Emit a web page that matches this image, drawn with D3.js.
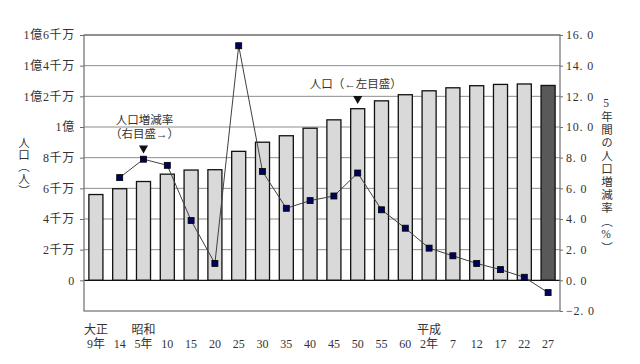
<!DOCTYPE html>
<html>
<head>
<meta charset="utf-8">
<script src="https://cdn.jsdelivr.net/npm/d3@7"></script>
<style>
  body { margin: 0; background: #fff; }
  svg text { font-family: "Liberation Serif", "Noto Sans CJK JP", serif !important; fill: #333; }
</style>
</head>
<body>
<svg width="640" height="364"></svg>
<script>
// census years (era labels on two rows)
var years = ["1920","1925","1930","1935","1940","1945","1950","1955","1960","1965",
             "1970","1975","1980","1985","1990","1995","2000","2005","2010","2015"];
var yearLabels = ["9年","14","5年","10","15","20","25","30","35","40",
                  "45","50","55","60","2年","7","12","17","22","27"];
var eraLabels = ["大正","","昭和","","","","","","","","","","","","平成","","","","",""];
// population, millions
var population = [55.96, 59.74, 64.45, 69.25, 71.93, 72.15, 84.12, 90.08, 94.30, 99.21,
                  104.67, 111.94, 117.06, 121.05, 123.61, 125.57, 126.93, 127.77, 128.06, 127.09];
// 5-year growth rate, %
var growth = [null, 6.7, 7.9, 7.5, 3.9, 1.1, 15.3, 7.1, 4.7, 5.2,
              5.5, 7.0, 4.6, 3.4, 2.1, 1.6, 1.1, 0.7, 0.2, -0.8];
var leftTicks = [0, 20, 40, 60, 80, 100, 120, 140, 160];
var leftTickLabels = ["0","2千万","4千万","6千万","8千万","1億","1億2千万","1億4千万","1億6千万"];
var rightTicks = [-2, 0, 2, 4, 6, 8, 10, 12, 14, 16];

var svg = d3.select("svg"),
  margin = {top: 35, right: 80, bottom: 53, left: 84},
  width = +svg.attr("width") - margin.left - margin.right,
  height = +svg.attr("height") - margin.top - margin.bottom;

var x = d3.scaleBand().domain(years).range([0, width]).paddingInner(0.41).paddingOuter(0.205),
  yL = d3.scaleLinear().domain([-20, 160]).range([height, 0]),
  yR = d3.scaleLinear().domain([-2, 16]).range([height, 0]);

var g = svg.append("g").attr("transform", "translate(" + margin.left + "," + margin.top + ")");

// gridlines
g.selectAll(".grid").data(leftTicks.slice(1)).enter().append("line")
  .attr("x1", 0).attr("x2", width)
  .attr("y1", function(d) { return yL(d); }).attr("y2", function(d) { return yL(d); })
  .attr("stroke", "#8c8c8c").attr("stroke-width", 1);

// bars
g.selectAll(".bar").data(population).enter().append("rect")
  .attr("x", function(d, i) { return x(years[i]); })
  .attr("width", x.bandwidth())
  .attr("y", function(d) { return yL(d); })
  .attr("height", function(d) { return yL(0) - yL(d); })
  .attr("fill", function(d, i) { return i === years.length - 1 ? "#595959" : "#d9d9d9"; })
  .attr("stroke", "#111").attr("stroke-width", 1.3);

// zero line
g.append("line").attr("x1", 0).attr("x2", width)
  .attr("y1", yL(0)).attr("y2", yL(0)).attr("stroke", "#111").attr("stroke-width", 1.3);

// frame
g.append("rect").attr("width", width).attr("height", height)
  .attr("fill", "none").attr("stroke", "#6e6e6e").attr("stroke-width", 1.2);

// left axis
var axisL = d3.axisLeft(yL).tickValues(leftTicks).tickSize(4)
  .tickFormat(function(d, i) { return leftTickLabels[i]; });
var gL = g.append("g").call(axisL);
gL.select(".domain").remove();
gL.selectAll("line").attr("stroke", "#6e6e6e");
gL.selectAll("text").attr("x", -9).attr("font-size", 12).attr("letter-spacing", 0.7)
  .style("fill", "#333");

// right axis
var axisR = d3.axisRight(yR).tickValues(rightTicks).tickSize(3)
  .tickFormat(function(d) { return d3.format(".1f")(d).replace(".", ". "); });
var gR = g.append("g").attr("transform", "translate(" + width + ",0)").call(axisR);
gR.select(".domain").remove();
gR.selectAll("line").attr("stroke", "#6e6e6e");
gR.selectAll("text").attr("x", 6).attr("font-size", 12).attr("letter-spacing", 0.8)
  .style("fill", "#333").style("white-space", "pre");

// growth line + markers
var line = d3.line()
  .defined(function(d) { return d != null; })
  .x(function(d, i) { return x(years[i]) + x.bandwidth() / 2; })
  .y(function(d) { return yR(d); });
g.append("path").datum(growth).attr("d", line)
  .attr("fill", "none").attr("stroke", "#404040").attr("stroke-width", 1);
growth.forEach(function(d, i) {
  if (d == null) return;
  g.append("rect")
    .attr("x", x(years[i]) + x.bandwidth() / 2 - 3)
    .attr("y", yR(d) - 3)
    .attr("width", 6).attr("height", 6)
    .attr("fill", "#00005e").attr("stroke", "#000").attr("stroke-width", 0.8);
});

// x labels
g.selectAll(".era").data(eraLabels).enter().append("text")
  .attr("x", function(d, i) { return x(years[i]) + x.bandwidth() / 2; })
  .attr("y", height + 23)
  .attr("text-anchor", "middle").attr("font-size", 12)
  .text(function(d) { return d; });
g.selectAll(".yr").data(yearLabels).enter().append("text")
  .attr("x", function(d, i) { return x(years[i]) + x.bandwidth() / 2; })
  .attr("y", height + 37)
  .attr("text-anchor", "middle").attr("font-size", 12)
  .text(function(d) { return d; });

// annotations
var tri = d3.symbol().type(d3.symbolTriangle).size(36);
var i1930 = years.indexOf("1930"), i1975 = years.indexOf("1975");
var ax1 = x(years[i1930]) + x.bandwidth() / 2;
g.append("path").attr("d", tri)
  .attr("transform", "translate(" + ax1 + "," + (yR(growth[i1930]) - 11) + ") rotate(180)")
  .attr("fill", "#111");
g.append("text").attr("x", ax1 + 1).attr("y", yR(growth[i1930]) - 35)
  .attr("text-anchor", "middle").attr("font-size", 11.5).text("人口増減率");
g.append("text").attr("x", ax1 + 1).attr("y", yR(growth[i1930]) - 21)
  .attr("text-anchor", "middle").attr("font-size", 11.5).text("（右目盛→）");

var ax2 = x(years[i1975]) + x.bandwidth() / 2;
g.append("path").attr("d", tri)
  .attr("transform", "translate(" + ax2 + "," + (yL(population[i1975]) - 10) + ") rotate(180)")
  .attr("fill", "#111");
g.append("text").attr("x", ax2 - 2).attr("y", yL(population[i1975]) - 21)
  .attr("text-anchor", "middle").attr("font-size", 11.5).text("人口（←左目盛）");

// axis titles
svg.append("text").attr("x", 23).attr("y", 137)
  .style("writing-mode", "vertical-rl").style("text-orientation", "upright")
  .attr("font-size", 11.5).attr("letter-spacing", 0.5).text("人口（人）");
svg.append("text").attr("x", 606).attr("y", 97)
  .style("writing-mode", "vertical-rl").style("text-orientation", "upright")
  .attr("font-size", 11.5).attr("letter-spacing", 1.6).text("5年間の人口増減率（%）");
</script>
</body>
</html>
